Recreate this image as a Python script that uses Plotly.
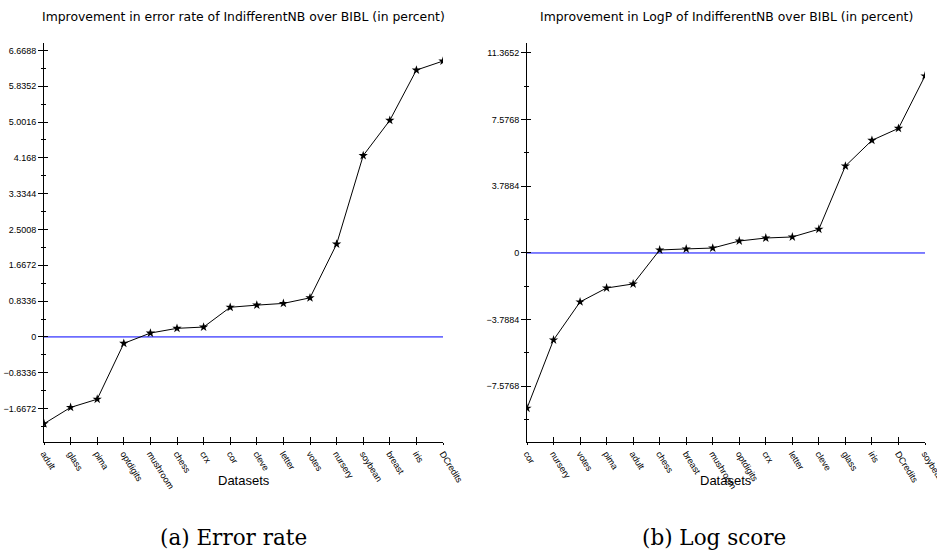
import plotly.graph_objects as go

# ---------------- data ----------------
err_datasets = ["adult", "glass", "pima", "optdigits", "mushroom", "chess", "crx", "cor",
                "cleve", "letter", "votes", "nursery", "soybean", "breast", "iris", "DCredits"]
err_values = [-2.02, -1.64, -1.45, -0.15, 0.09, 0.20, 0.23, 0.69,
              0.74, 0.78, 0.91, 2.16, 4.22, 5.04, 6.21, 6.42]

log_datasets = ["cor", "nursery", "votes", "pima", "adult", "chess", "breast", "mushroom",
                "optdigits", "crx", "letter", "cleve", "glass", "iris", "DCredits", "soybean"]
log_values = [-8.82, -4.94, -2.78, -1.99, -1.76, 0.17, 0.23, 0.28,
              0.68, 0.85, 0.91, 1.35, 4.94, 6.40, 7.08, 10.06]

err_tickvals = [-1.6672, -0.8336, 0, 0.8336, 1.6672, 2.5008, 3.3344, 4.168, 5.0016, 5.8352, 6.6688]
err_ticktext = ["−1.6672", "−0.8336", "0", "0.8336", "1.6672", "2.5008", "3.3344", "4.168",
                "5.0016", "5.8352", "6.6688"]
log_tickvals = [-7.5768, -3.7884, 0, 3.7884, 7.5768, 11.3652]
log_ticktext = ["−7.5768", "−3.7884", "0", "3.7884", "7.5768", "11.3652"]

err_title = "Improvement in error rate of IndifferentNB over BIBL (in percent)"
log_title = "Improvement in LogP of IndifferentNB over BIBL (in percent)"
x_title = "Datasets"
captions = ["(a) Error rate", "(b) Log score"]

# ---------------- layout geometry ----------------
W, H = 937, 551
def px_x(v): return v / W
def px_y(v): return 1 - v / H

FONT = "Liberation Sans, Arial, sans-serif"
tickfont = dict(family=FONT, size=9, color="black")

fig = go.Figure()

def add_panel(cats, vals, xa, ya, xo, yo):
    fig.add_trace(go.Scatter(
        x=cats, y=vals, mode="lines+markers",
        line=dict(color="black", width=1),
        marker=dict(symbol="star", size=7, color="black"),
        xaxis=xa, yaxis=ya, showlegend=False, hoverinfo="x+y"))
    # invisible copy to carry the overlay (inside-tick) axes
    fig.add_trace(go.Scatter(
        x=cats, y=vals, mode="markers", marker=dict(opacity=0),
        xaxis=xo, yaxis=yo, showlegend=False, hoverinfo="skip"))

add_panel(err_datasets, err_values, "x", "y", "x3", "y3")
add_panel(log_datasets, log_values, "x2", "y2", "x4", "y4")

dom_y = [px_y(442), px_y(43)]
dom_x1 = [px_x(44), px_x(443)]
dom_x2 = [px_x(527), px_x(925)]
err_range = [-2.445, 6.84]
log_range = [-10.74, 11.93]

def xaxis_main(cats, dom, anchor):
    return dict(domain=dom, anchor=anchor, type="category", categoryorder="array",
                categoryarray=cats, range=[0, len(cats) - 1], showgrid=False, zeroline=False,
                showline=True, linecolor="black", linewidth=1, ticks="outside", ticklen=2,
                tickcolor="black", tickwidth=1, tickangle=58, tickfont=tickfont,
                automargin=False)

def xaxis_over(cats, over, anchor):
    return dict(overlaying=over, anchor=anchor, type="category", categoryorder="array",
                categoryarray=cats, range=[0, len(cats) - 1], showgrid=False, zeroline=False,
                showline=False, ticks="inside", ticklen=5, tickcolor="black", tickwidth=1,
                showticklabels=False, automargin=False)

def yaxis_main(rng, tv, tt, minor_dtick, anchor):
    return dict(domain=dom_y, anchor=anchor, range=rng, tickmode="array", tickvals=tv,
                ticktext=tt, showgrid=False, zeroline=False, showline=True, linecolor="black",
                linewidth=1, ticks="outside", ticklen=5, tickcolor="black", tickwidth=1,
                tickfont=tickfont, automargin=False,
                minor=dict(tickmode="linear", tick0=0, dtick=minor_dtick, ticks="outside",
                           ticklen=2, tickcolor="black", showgrid=False))

def yaxis_over(rng, tv, minor_dtick, over, anchor):
    return dict(overlaying=over, anchor=anchor, side="left", range=rng, tickmode="array",
                tickvals=tv, showticklabels=False, showgrid=False, zeroline=False,
                showline=False, ticks="inside", ticklen=4, tickcolor="black", tickwidth=1,
                automargin=False,
                minor=dict(tickmode="linear", tick0=0, dtick=minor_dtick, ticks="inside",
                           ticklen=2, tickcolor="black", showgrid=False))

fig.update_layout(
    width=W, height=H, margin=dict(l=0, r=0, t=0, b=0, autoexpand=False),
    paper_bgcolor="white", plot_bgcolor="white",
    xaxis=xaxis_main(err_datasets, dom_x1, "y"),
    xaxis3=xaxis_over(err_datasets, "x", "y"),
    yaxis=yaxis_main(err_range, err_tickvals, err_ticktext, 0.4168, "x"),
    yaxis3=yaxis_over(err_range, err_tickvals, 0.4168, "y", "x"),
    xaxis2=xaxis_main(log_datasets, dom_x2, "y2"),
    xaxis4=xaxis_over(log_datasets, "x2", "y2"),
    yaxis2=yaxis_main(log_range, log_tickvals, log_ticktext, 1.8942, "x2"),
    yaxis4=yaxis_over(log_range, log_tickvals, 1.8942, "y2", "x2"),
)

# zero reference lines
fig.add_shape(type="line", xref="x domain", yref="y", x0=0, x1=1, y0=0, y1=0,
              line=dict(color="#0000ff", width=1), layer="below")
fig.add_shape(type="line", xref="x2 domain", yref="y2", x0=0, x1=1, y0=0, y1=0,
              line=dict(color="#0000ff", width=1), layer="below")

ann_font = dict(family="DejaVu Sans, sans-serif", size=12.4, color="black")
cx1 = (dom_x1[0] + dom_x1[1]) / 2
cx2 = (dom_x2[0] + dom_x2[1]) / 2
fig.add_annotation(text=err_title, x=cx1, y=px_y(16), xref="paper", yref="paper",
                   showarrow=False, font=ann_font, xanchor="center", yanchor="middle")
fig.add_annotation(text=log_title, x=cx2, y=px_y(16), xref="paper", yref="paper",
                   showarrow=False, font=ann_font, xanchor="center", yanchor="middle")
for cx in (cx1, cx2):
    fig.add_annotation(text=x_title, x=cx, y=px_y(480), xref="paper", yref="paper",
                       showarrow=False, font=dict(family=FONT, size=13, color="black"),
                       xanchor="center", yanchor="middle")
cap_font = dict(family="DejaVu Serif, Liberation Serif, serif", size=21.5, color="black")
fig.add_annotation(text=captions[0], x=px_x(233), y=px_y(537), xref="paper", yref="paper",
                   showarrow=False, font=cap_font, xanchor="center", yanchor="middle")
fig.add_annotation(text=captions[1], x=px_x(714), y=px_y(537), xref="paper", yref="paper",
                   showarrow=False, font=cap_font, xanchor="center", yanchor="middle")

post = (
    "document.body.style.margin='0px';"
    "document.body.style.overflow='hidden';"
    "document.documentElement.style.overflow='hidden';"
    "var gd=document.getElementById('{plot_id}');"
    "gd.style.overflow='hidden';"
    "var sc=gd.querySelector('.svg-container'); if(sc){sc.style.overflow='hidden';}"
)
fig.write_html("out.html", config={"displayModeBar": False}, post_script=post)
